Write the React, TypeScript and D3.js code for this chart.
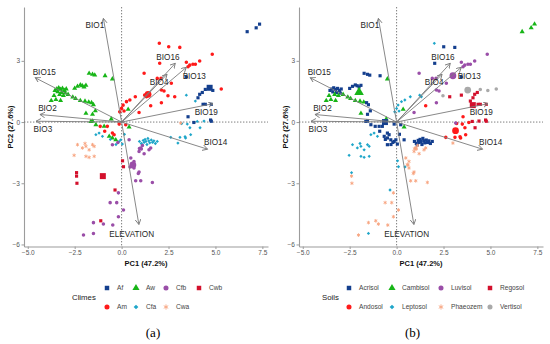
import React, { useEffect, useRef } from "react";
import * as d3 from "d3";

// legend levels, sorted the way ggplot sorts them
const climes = ["Af", "Am", "Aw", "Cfa", "Cfb", "Cwa", "Cwb"];
const climeColors = ["#143f8e", "#ff1a1a", "#17b517", "#1ea6c9", "#9a4ea8", "#f7a47f", "#d3102c"];
const climeShapes = ["square", "circle", "triangle", "diamond", "circle", "asterisk", "square"];

const soils = ["Acrisol", "Andosol", "Cambisol", "Leptosol", "Luvisol", "Phaeozem", "Regosol", "Vertisol"];
const soilColors = ["#143f8e", "#ff1a1a", "#17b517", "#1ea6c9", "#9a4ea8", "#f7a47f", "#d3102c", "#a9a9a9"];
const soilShapes = ["square", "circle", "triangle", "diamond", "circle", "asterisk", "square", "circle"];

const xTicks = [-5, -2.5, 0, 2.5, 5, 7.5];
const yTicks = [-6, -3, 0, 3];

// loadings: name, arrow tip (pc1, pc2), label centre (pc1, pc2)
const loadings: [string, number, number, number, number][] = [
  ["BIO1", -0.97, 5.08, -1.42, 4.75],
  ["BIO15", -4.6, 2.17, -4.12, 2.47],
  ["BIO2", -4.35, 0.37, -3.95, 0.7],
  ["BIO3", -4.56, 0.04, -4.19, -0.37],
  ["BIO16", 2.86, 2.88, 2.47, 3.2],
  ["BIO13", 3.45, 2.68, 3.87, 2.27],
  ["BIO4", 2.42, 2.34, 2.0, 1.96],
  ["BIO19", 4.87, 0.9, 4.51, 0.5],
  ["BIO14", 4.58, -1.33, 5.01, -0.98],
  ["ELEVATION", 0.92, -5.02, 0.54, -5.49],
];

// sites: pc1, pc2, clime, soil
const sites: [number, number, string, string][] = [
  // Aw
  [-1.73, 2.39, "Aw", "Acrisol"],
  [-1.55, 2.34, "Aw", "Acrisol"],
  [-1.43, 2.3, "Aw", "Acrisol"],
  [-0.88, 2.27, "Aw", "Acrisol"],
  [-0.49, 2.11, "Aw", "Cambisol"],
  [-3.55, 1.55, "Aw", "Acrisol"],
  [-3.45, 1.62, "Aw", "Acrisol"],
  [-3.35, 1.68, "Aw", "Acrisol"],
  [-3.25, 1.6, "Aw", "Acrisol"],
  [-3.15, 1.65, "Aw", "Acrisol"],
  [-3.05, 1.55, "Aw", "Acrisol"],
  [-2.95, 1.62, "Aw", "Acrisol"],
  [-3.4, 1.48, "Aw", "Acrisol"],
  [-3.2, 1.45, "Aw", "Acrisol"],
  [-3.0, 1.42, "Aw", "Acrisol"],
  [-3.6, 1.3, "Aw", "Cambisol"],
  [-3.3, 1.35, "Aw", "Cambisol"],
  [-3.1, 1.3, "Aw", "Cambisol"],
  [-2.85, 1.35, "Aw", "Cambisol"],
  [-3.75, 1.05, "Aw", "Cambisol"],
  [-3.5, 1.1, "Aw", "Cambisol"],
  [-3.25, 1.05, "Aw", "Cambisol"],
  [-2.6, 1.22, "Aw", "Cambisol"],
  [-2.45, 1.15, "Aw", "Cambisol"],
  [-2.2, 1.05, "Aw", "Cambisol"],
  [-1.95, 1.02, "Aw", "Cambisol"],
  [-1.75, 0.98, "Aw", "Cambisol"],
  [-2.35, 1.75, "Aw", "Acrisol"],
  [-2.2, 1.82, "Aw", "Acrisol"],
  [-2.1, 1.78, "Aw", "Acrisol"],
  [-2.0, 1.72, "Aw", "Acrisol"],
  [-1.9, 1.8, "Aw", "Acrisol"],
  [-2.5, 1.65, "Aw", "Acrisol"],
  [-1.5, 0.85, "Aw", "Acrisol"],
  [-1.6, 0.95, "Aw", "Acrisol"],
  [-1.4, 0.55, "Aw", "Acrisol"],
  [-1.9, 0.43, "Aw", "Cambisol"],
  [-1.55, 0.38, "Aw", "Acrisol"],
  [-1.55, 0.05, "Aw", "Acrisol"],
  [-0.55, 0.15, "Aw", "Cambisol"],
  [-1.64, 0.03, "Aw", "Acrisol"],
  [-1.37, -0.13, "Aw", "Acrisol"],
  [-0.93, -0.21, "Aw", "Acrisol"],
  [-0.66, -0.7, "Aw", "Acrisol"],
  [-0.49, -0.78, "Aw", "Acrisol"],
  [-0.31, -0.87, "Aw", "Acrisol"],
  [0.4, -0.25, "Aw", "Cambisol"],
  [0.35, 0.62, "Aw", "Cambisol"],
  // Af
  [6.69, 4.43, "Af", "Cambisol"],
  [7.17, 4.62, "Af", "Cambisol"],
  [7.35, 4.8, "Af", "Cambisol"],
  [3.44, 2.22, "Af", "Acrisol"],
  [4.46, 1.6, "Af", "Vertisol"],
  [4.86, 1.55, "Af", "Vertisol"],
  [4.16, 1.36, "Af", "Regosol"],
  [4.07, 1.19, "Af", "Regosol"],
  [4.3, 1.45, "Af", "Regosol"],
  [4.34, 0.87, "Af", "Regosol"],
  [4.46, 0.87, "Af", "Regosol"],
  [4.78, 0.87, "Af", "Regosol"],
  [3.54, 0.26, "Af", "Andosol"],
  [4.74, 0.1, "Af", "Regosol"],
  [4.78, 0.04, "Af", "Regosol"],
  [3.85, -0.02, "Af", "Andosol"],
  // Am
  [2.51, 3.69, "Am", "Acrisol"],
  [2.01, 3.86, "Am", "Leptosol"],
  [3.1, 3.66, "Am", "Acrisol"],
  [4.83, 3.32, "Am", "Luvisol"],
  [2.03, 2.88, "Am", "Acrisol"],
  [3.45, 2.93, "Am", "Luvisol"],
  [3.63, 2.79, "Am", "Luvisol"],
  [3.8, 2.83, "Am", "Luvisol"],
  [3.93, 2.83, "Am", "Luvisol"],
  [4.16, 2.99, "Am", "Luvisol"],
  [3.54, 2.71, "Am", "Luvisol"],
  [1.2, 2.39, "Am", "Luvisol"],
  [1.9, 2.14, "Am", "Luvisol"],
  [2.1, 2.14, "Am", "Luvisol"],
  [2.65, 1.9, "Am", "Luvisol"],
  [2.12, 1.57, "Am", "Luvisol"],
  [2.26, 1.52, "Am", "Luvisol"],
  [1.23, 1.32, "Am", "Leptosol"],
  [1.32, 1.24, "Am", "Leptosol"],
  [0.73, 1.24, "Am", "Leptosol"],
  [0.44, 1.08, "Am", "Leptosol"],
  [0.26, 1.0, "Am", "Leptosol"],
  [0.08, 0.83, "Am", "Leptosol"],
  [0.0, 0.67, "Am", "Leptosol"],
  [-0.1, 0.5, "Am", "Leptosol"],
  [0.13, 0.54, "Am", "Leptosol"],
  [2.47, 1.29, "Am", "Vertisol"],
  [2.83, 1.24, "Am", "Regosol"],
  [2.12, 0.95, "Am", "Luvisol"],
  [1.55, 0.8, "Am", "Andosol"],
  [0.93, 0.47, "Am", "Luvisol"],
  [5.31, 1.62, "Am", "Vertisol"],
  [-1.14, -0.21, "Am", "Acrisol"],
  [-0.76, -0.21, "Am", "Acrisol"],
  [-0.49, -0.54, "Am", "Acrisol"],
  [-0.4, -0.62, "Am", "Acrisol"],
  [-0.13, -0.1, "Am", "Acrisol"],
  [0.22, -0.13, "Am", "Acrisol"],
  [-0.9, -0.45, "Am", "Acrisol"],
  // Cfa
  [3.45, 1.32, "Cfa", "Regosol"],
  [3.93, 1.03, "Cfa", "Regosol"],
  [4.39, 0.05, "Cfa", "Regosol"],
  [3.64, -0.28, "Cfa", "Andosol"],
  [4.18, -0.28, "Cfa", "Regosol"],
  [3.2, -0.07, "Cfa", "Andosol"],
  [2.62, -0.75, "Cfa", "Andosol"],
  [3.0, -1.03, "Cfa", "Phaeozem"],
  [3.41, -0.78, "Cfa", "Andosol"],
  [3.5, -0.1, "Cfa", "Andosol"],
  [3.68, -0.62, "Cfa", "Andosol"],
  [4.03, 0.03, "Cfa", "Regosol"],
  [3.11, -0.75, "Cfa", "Andosol"],
  [3.38, -0.72, "Cfa", "Andosol"],
  [0.95, -0.95, "Cfa", "Acrisol"],
  [1.05, -1.05, "Cfa", "Acrisol"],
  [1.15, -0.9, "Cfa", "Acrisol"],
  [1.2, -1.0, "Cfa", "Acrisol"],
  [1.3, -0.95, "Cfa", "Acrisol"],
  [1.35, -1.1, "Cfa", "Acrisol"],
  [1.45, -0.92, "Cfa", "Acrisol"],
  [1.5, -1.02, "Cfa", "Acrisol"],
  [1.58, -0.88, "Cfa", "Acrisol"],
  [1.65, -1.0, "Cfa", "Acrisol"],
  [1.72, -0.92, "Cfa", "Acrisol"],
  [1.8, -1.05, "Cfa", "Acrisol"],
  [1.25, -0.85, "Cfa", "Acrisol"],
  [1.1, -1.12, "Cfa", "Acrisol"],
  [1.9, -0.95, "Cfa", "Acrisol"],
  [1.4, -0.8, "Cfa", "Acrisol"],
  [-1.37, -0.62, "Cfa", "Leptosol"],
  [-1.2, -0.54, "Cfa", "Leptosol"],
  [-1.02, -0.7, "Cfa", "Leptosol"],
  [-0.13, -0.95, "Cfa", "Acrisol"],
  [0.04, -1.08, "Cfa", "Acrisol"],
  [-0.04, -0.87, "Cfa", "Acrisol"],
  [0.15, -0.6, "Cfa", "Acrisol"],
  [-0.6, -0.85, "Cfa", "Acrisol"],
  [-0.3, -1.1, "Cfa", "Acrisol"],
  // Cwa
  [3.15, -0.05, "Cwa", "Luvisol"],
  [-2.35, -1.11, "Cwa", "Leptosol"],
  [-2.09, -1.27, "Cwa", "Leptosol"],
  [-1.9, -1.19, "Cwa", "Leptosol"],
  [-1.55, -1.11, "Cwa", "Leptosol"],
  [-1.46, -1.19, "Cwa", "Leptosol"],
  [-1.73, -1.36, "Cwa", "Leptosol"],
  [-2.53, -1.63, "Cwa", "Leptosol"],
  [-1.9, -1.68, "Cwa", "Leptosol"],
  [-1.73, -1.73, "Cwa", "Leptosol"],
  [-1.46, -1.68, "Cwa", "Leptosol"],
  [-1.95, -1.05, "Cwa", "Leptosol"],
  // Cfb
  [0.93, -1.44, "Cfb", "Phaeozem"],
  [1.02, -1.27, "Cfb", "Phaeozem"],
  [1.11, -1.15, "Cfb", "Phaeozem"],
  [1.46, -1.36, "Cfb", "Phaeozem"],
  [1.55, -1.27, "Cfb", "Phaeozem"],
  [1.2, -1.55, "Cfb", "Phaeozem"],
  [0.49, -1.76, "Cfb", "Phaeozem"],
  [0.66, -1.93, "Cfb", "Phaeozem"],
  [0.57, -2.09, "Cfb", "Phaeozem"],
  [0.66, -2.25, "Cfb", "Phaeozem"],
  [0.45, -2.2, "Cfb", "Leptosol"],
  [0.93, -2.45, "Cfb", "Phaeozem"],
  [0.61, -2.1, "Cfb", "Phaeozem"],
  [0.89, -2.52, "Cfb", "Phaeozem"],
  [0.75, -2.88, "Cfb", "Phaeozem"],
  [1.02, -2.88, "Cfb", "Phaeozem"],
  [1.64, -2.96, "Cfb", "Phaeozem"],
  [-0.17, -3.47, "Cfb", "Phaeozem"],
  [-0.26, -3.95, "Cfb", "Phaeozem"],
  [-0.61, -3.95, "Cfb", "Phaeozem"],
  [0.1, -4.31, "Cfb", "Phaeozem"],
  [-0.17, -4.64, "Cfb", "Phaeozem"],
  [-0.47, -5.05, "Cfb", "Phaeozem"],
  [-0.97, -5.0, "Cfb", "Phaeozem"],
  [-1.5, -4.93, "Cfb", "Phaeozem"],
  [-1.5, -5.46, "Cfb", "Leptosol"],
  [-2.03, -5.54, "Cfb", "Phaeozem"],
  [0.95, -1.3, "Cfb", "Phaeozem"],
  [1.05, -1.32, "Cfb", "Phaeozem"],
  [0.4, -0.87, "Cfb", "Acrisol"],
  [-0.49, -1.11, "Cfb", "Acrisol"],
  [-0.2, -1.0, "Cfb", "Acrisol"],
  // Cwb
  [-2.4, -2.48, "Cwb", "Leptosol"],
  [-2.4, -2.65, "Cwb", "Phaeozem"],
  [-2.38, -3.0, "Cwb", "Phaeozem"],
  [-0.35, -3.33, "Cwb", "Leptosol"],
  [0.1, -2.19, "Cwb", "Leptosol"],
  [-1.11, -4.84, "Cwb", "Phaeozem"],
  [0.05, -1.9, "Cwb", "Leptosol"],
];

// group centroids drawn as bigger symbols
const climeMeans: [string, number, number][] = [
  ["Af", 4.69, 1.68],
  ["Am", 1.41, 1.36],
  ["Cwb", -1.0, -2.65],
  ["Cfb", 0.6, -2.1],
];
const soilMeans: [string, number, number][] = [
  ["Acrisol", -0.62, 0.0],
  ["Cambisol", -2.0, 1.46],
  ["Luvisol", 3.0, 2.27],
  ["Regosol", 4.06, 0.83],
  ["Andosol", 3.14, -0.42],
  ["Vertisol", 3.79, 1.57],
];

const symbolTypes: Record<string, d3.SymbolType> = {
  square: d3.symbolSquare,
  circle: d3.symbolCircle,
  triangle: d3.symbolTriangle,
  diamond: d3.symbolSquare,
  asterisk: d3.symbolAsterisk,
};

const font = "'Liberation Sans', Arial, sans-serif";

const App = () => {
  const svgRef = useRef<SVGSVGElement>(null);

  useEffect(() => {
    const svg = d3.select(svgRef.current);
    svg.selectAll("*").remove();

    const x = d3.scaleLinear().domain([-5.2, 7.8]).range([24, 268]);
    const y = d3.scaleLinear().domain([-6.1, 5.64]).range([246.5, 7]);

    svg
      .append("defs")
      .append("marker")
      .attr("id", "arrowhead")
      .attr("markerUnits", "userSpaceOnUse")
      .attr("markerWidth", 8)
      .attr("markerHeight", 8)
      .attr("refX", 5)
      .attr("refY", 3)
      .attr("orient", "auto")
      .append("path")
      .attr("d", "M0,0.2 L5,3 L0,5.8")
      .attr("fill", "none")
      .attr("stroke", "#7a7a7a")
      .attr("stroke-width", 0.9);

    // ggplot shape 18 is a small square turned 45 degrees
    const drawSymbol = (g: any, shape: string, color: string, size: number, tx: number, ty: number) => {
      const area = shape === "triangle" ? size * 1.1 : shape === "diamond" ? size * 0.55 : shape === "asterisk" ? size * 0.9 : size;
      const p = g
        .append("path")
        .attr("d", d3.symbol(symbolTypes[shape], area)())
        .attr("transform", `translate(${tx},${ty})${shape === "diamond" ? " rotate(45)" : ""}`);
      if (shape === "asterisk") p.attr("fill", "none").attr("stroke", color).attr("stroke-width", 0.9);
      else p.attr("fill", color);
    };

    const panels = [
      {
        ox: 0,
        levels: climes,
        colors: climeColors,
        shapes: climeShapes,
        pick: (s: [number, number, string, string]) => s[2],
        means: climeMeans,
        title: "Climes",
        titleX: 72,
        keyX: [107, 136, 166, 199],
        caption: "(a)",
        captionX: 153,
      },
      {
        ox: 275,
        levels: soils,
        colors: soilColors,
        shapes: soilShapes,
        pick: (s: [number, number, string, string]) => s[3],
        means: soilMeans,
        title: "Soils",
        titleX: 47,
        keyX: [74, 117, 166, 215],
        caption: "(b)",
        captionX: 137.5,
      },
    ];

    panels.forEach((p) => {
      const g = svg.append("g").attr("transform", `translate(${p.ox},0)`);

      // axes
      const xAxis = g
        .append("g")
        .attr("transform", `translate(0,${y.range()[0]})`)
        .call(d3.axisBottom(x).tickValues(xTicks).tickFormat(d3.format(".1f")).tickSize(2.5).tickSizeOuter(0).tickPadding(1.5));
      const yAxis = g
        .append("g")
        .attr("transform", `translate(${x.range()[0]},0)`)
        .call(d3.axisLeft(y).tickValues(yTicks).tickFormat(d3.format("d")).tickSize(2.5).tickSizeOuter(0).tickPadding(1.5));
      [xAxis, yAxis].forEach((a) => {
        a.select(".domain").attr("stroke", "#9c9c9c").attr("stroke-width", 1.1);
        a.selectAll(".tick line").attr("stroke", "#9c9c9c");
        a.selectAll(".tick text").attr("fill", "#555").style("font", `6.5px ${font}`);
      });

      // zero reference lines
      g.append("line")
        .attr("x1", x(0)).attr("x2", x(0))
        .attr("y1", y.range()[1]).attr("y2", y.range()[0])
        .attr("stroke", "#6f6f6f").attr("stroke-width", 0.9).attr("stroke-dasharray", "1.4,1.6");
      g.append("line")
        .attr("x1", x.range()[0]).attr("x2", x.range()[1])
        .attr("y1", y(0)).attr("y2", y(0))
        .attr("stroke", "#6f6f6f").attr("stroke-width", 0.9).attr("stroke-dasharray", "1.4,1.6");

      // points
      const pts = g.append("g");
      sites.forEach((s) => {
        const i = p.levels.indexOf(p.pick(s));
        drawSymbol(pts, p.shapes[i], p.colors[i], 10, x(s[0]), y(s[1]));
      });
      p.means.forEach((m) => {
        const i = p.levels.indexOf(m[0]);
        drawSymbol(pts, p.shapes[i], p.colors[i], 36, x(m[1]), y(m[2]));
      });

      // loading arrows
      g.append("g")
        .selectAll("line")
        .data(loadings)
        .join("line")
        .attr("x1", x(0))
        .attr("y1", y(0))
        .attr("x2", (d) => x(d[1]))
        .attr("y2", (d) => y(d[2]))
        .attr("stroke", "#7a7a7a")
        .attr("stroke-width", 0.9)
        .attr("marker-end", "url(#arrowhead)");

      g.append("g")
        .selectAll("text")
        .data(loadings)
        .join("text")
        .attr("x", (d) => x(d[3]))
        .attr("y", (d) => y(d[4]))
        .attr("dy", "0.35em")
        .attr("text-anchor", "middle")
        .attr("fill", "#262626")
        .style("font", `8.2px ${font}`)
        .text((d) => d[0]);

      // axis titles
      g.append("text")
        .attr("x", 146)
        .attr("y", 266)
        .attr("text-anchor", "middle")
        .attr("fill", "#111")
        .style("font", `bold 7.5px ${font}`)
        .text("PC1 (47.2%)");
      g.append("text")
        .attr("transform", `translate(12.5,127) rotate(-90)`)
        .attr("text-anchor", "middle")
        .attr("fill", "#111")
        .style("font", `bold 7.5px ${font}`)
        .text("PC2 (27.6%)");

      // legend
      const leg = g.append("g");
      leg.append("text")
        .attr("x", p.titleX)
        .attr("y", 297.5)
        .attr("dy", "0.35em")
        .attr("fill", "#1a1a1a")
        .style("font", `7.8px ${font}`)
        .text(p.title);
      p.levels.forEach((lv, i) => {
        const kx = p.keyX[Math.floor(i / 2)];
        const ky = i % 2 === 0 ? 288 : 307;
        drawSymbol(leg, p.shapes[i], p.colors[i], 20, kx, ky);
        leg.append("text")
          .attr("x", kx + 10)
          .attr("y", ky)
          .attr("dy", "0.35em")
          .attr("fill", "#444")
          .style("font", `6.6px ${font}`)
          .text(lv);
      });

      g.append("text")
        .attr("x", p.captionX)
        .attr("y", 337)
        .attr("text-anchor", "middle")
        .attr("fill", "#000")
        .style("font", `13px 'Liberation Serif', 'Times New Roman', serif`)
        .text(p.caption);
    });
  }, []);

  return (
    <svg
      ref={svgRef}
      width={550}
      height={344}
      style={{ position: "absolute", left: 0, top: 0, background: "#fff" }}
    />
  );
};

export default App;
